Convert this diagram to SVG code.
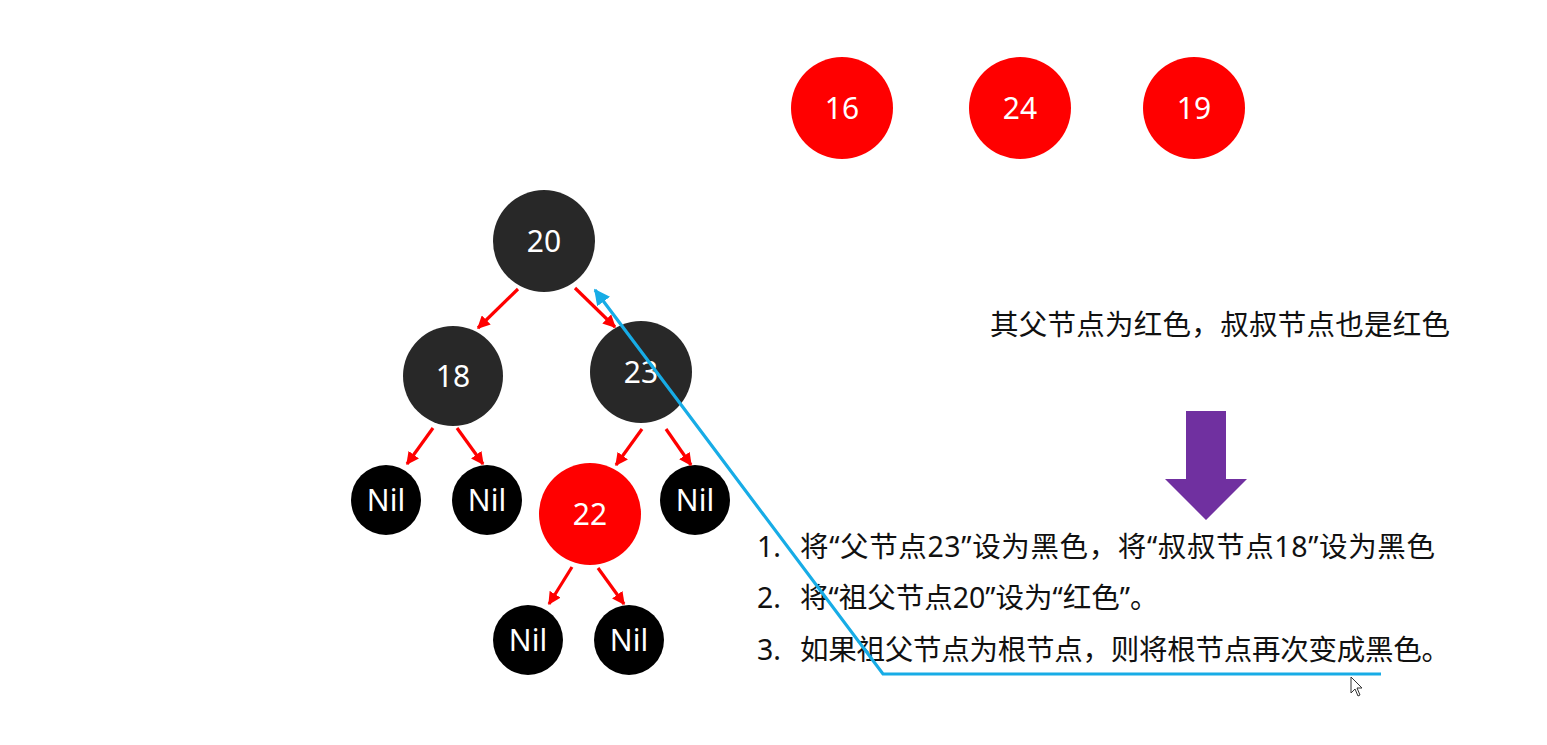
<svg xmlns="http://www.w3.org/2000/svg" width="1547" height="745" viewBox="0 0 1547 745">
<style>
.dark{fill:#282828}
.nil{fill:#000}
.red{fill:#ff0000}
.lbl{fill:#fff;font-family:"Noto Sans","Noto Sans CJK SC",sans-serif;font-size:30px;text-anchor:middle}
.txt{fill:#111;font-family:"Noto Sans","Noto Sans CJK SC",sans-serif;font-size:28.5px}
.edge{stroke:#ff0000;stroke-width:3.2;fill:none;marker-end:url(#ah)}
</style>
<defs>
<marker id="ah" viewBox="0 0 10 10" refX="9" refY="5" markerWidth="4" markerHeight="4" orient="auto" markerUnits="strokeWidth">
<path d="M0,0 L10,5 L0,10 z" fill="#ff0000"/>
</marker>
<marker id="bh" viewBox="0 0 10 10" refX="9" refY="5" markerWidth="5" markerHeight="5" orient="auto" markerUnits="strokeWidth">
<path d="M0,0 L10,5 L0,10 z" fill="#17ace6"/>
</marker>
</defs>
<rect width="1547" height="745" fill="#fff"/>

<g id="n16"><circle class="red" cx="842" cy="108" r="51"/><text class="lbl" x="842" y="119">16</text></g>
<g id="n24"><circle class="red" cx="1020" cy="108" r="51"/><text class="lbl" x="1020" y="119">24</text></g>
<g id="n19"><circle class="red" cx="1194" cy="108" r="51"/><text class="lbl" x="1194" y="119">19</text></g>

<g id="n20"><circle class="dark" cx="544" cy="241" r="51"/><text class="lbl" x="544" y="252">20</text></g>
<g id="n18"><circle class="dark" cx="453" cy="376" r="50"/><text class="lbl" x="453" y="387">18</text></g>
<g id="n23"><circle class="dark" cx="641" cy="372" r="51"/><text class="lbl" x="641" y="383">23</text></g>
<g id="nil1"><circle class="nil" cx="386" cy="500" r="35"/><text class="lbl" x="386" y="511">Nil</text></g>
<g id="nil2"><circle class="nil" cx="487" cy="500" r="35"/><text class="lbl" x="487" y="511">Nil</text></g>
<g id="n22"><circle class="red" cx="590" cy="514" r="51"/><text class="lbl" x="590" y="525">22</text></g>
<g id="nil3"><circle class="nil" cx="695" cy="500" r="35"/><text class="lbl" x="695" y="511">Nil</text></g>
<g id="nil4"><circle class="nil" cx="528" cy="640" r="35"/><text class="lbl" x="528" y="651">Nil</text></g>
<g id="nil5"><circle class="nil" cx="629" cy="640" r="35"/><text class="lbl" x="629" y="651">Nil</text></g>

<g id="connectors">
<line class="edge" x1="518" y1="289" x2="478" y2="328"/>
<line class="edge" x1="575" y1="288" x2="615" y2="327"/>
<line class="edge" x1="433" y1="428" x2="407" y2="464"/>
<line class="edge" x1="457" y1="428" x2="483" y2="464"/>
<line class="edge" x1="642" y1="429" x2="616" y2="465"/>
<line class="edge" x1="666" y1="429" x2="691" y2="465"/>
<line class="edge" x1="572" y1="567" x2="549" y2="604"/>
<line class="edge" x1="598" y1="568" x2="624" y2="604"/>
</g>

<g id="title">
<text class="txt" x="990" y="335" textLength="460" lengthAdjust="spacing">其父节点为红色，叔叔节点也是红色</text>
</g>

<g id="bigArrow">
<path d="M1186,411 L1226,411 L1226,479 L1247,479 L1206,520 L1165,479 L1186,479 Z" fill="#7030a0"/>
</g>

<g id="steps">
<text class="txt" y="557"><tspan x="757">1.</tspan><tspan x="800" textLength="635" lengthAdjust="spacing">将“父节点23”设为黑色，将“叔叔节点18”设为黑色</tspan></text>
<text class="txt" y="608"><tspan x="757">2.</tspan><tspan x="800">将“祖父节点20”设为“红色”。</tspan></text>
<text class="txt" y="660"><tspan x="757">3.</tspan><tspan x="800" textLength="650" lengthAdjust="spacing">如果祖父节点为根节点，则将根节点再次变成黑色。</tspan></text>
</g>

<g id="annotation">
<polyline points="1381,674 883,674 595,290" fill="none" stroke="#17ace6" stroke-width="3.2" marker-end="url(#bh)"/>
</g>

<g id="cursor">
<path d="M1351,677 L1351,693 L1355,689 L1358,696 L1360,695 L1357,688 L1362,688 Z" fill="#fff" stroke="#333" stroke-width="1"/>
</g>
</svg>
